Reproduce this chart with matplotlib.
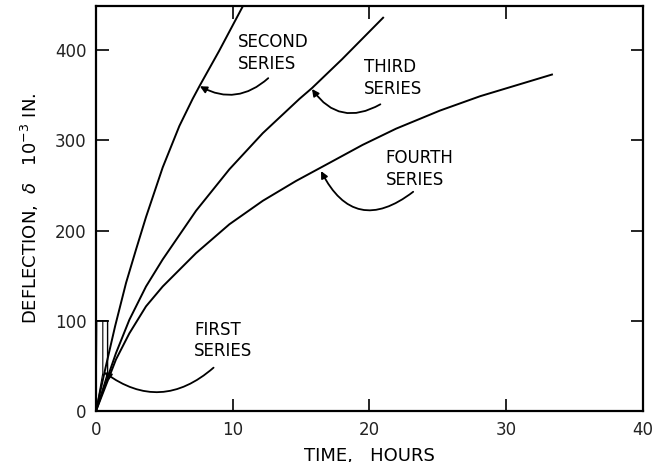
import numpy as np
import matplotlib.pyplot as plt

# values (time in hours, deflection in 1e-3 in.)
first_t = [0, 0.05, 0.85, 0.85, 0]
first_d = [0, 100, 100, 42, 0]
first_inner_t = [0, 0.5, 0.5]
first_inner_d = [0, 42, 100]

second_t = [0, 0.7, 1.4, 2.2, 2.93, 3.66, 4.88, 6.1, 7.07, 7.6, 9.0, 10.75]
second_d = [0, 48, 94, 142, 179, 215, 270, 316, 346, 361, 399, 449]

third_t = [0, 1.46, 2.44, 3.66, 4.88, 7.32, 9.76, 12.2, 14.88, 15.8, 18, 21]
third_d = [0, 64, 101, 138, 168, 222, 268, 308, 346, 358, 390, 436]

fourth_t = [0, 1.46, 2.44, 3.66, 4.88, 7.32, 9.76, 12.2, 14.63, 17.07, 19.5,
            21.95, 25.15, 28.1, 33.35]
fourth_d = [0, 57, 86, 116, 138, 175, 207, 233, 255, 275, 295,
            313, 333, 349, 373]

x_ticks = [0, 10, 20, 30, 40]
y_ticks = [0, 100, 200, 300, 400]

fig = plt.figure(figsize=(6.56, 4.62), dpi=100)
ax = fig.add_axes([0.1463, 0.1105, 0.8337, 0.8765])

lw = 1.4
ax.plot(first_t, first_d, '-k', linewidth=1.0)
ax.plot(first_inner_t, first_inner_d, '-k', linewidth=0.8)
ax.plot(second_t, second_d, '-k', linewidth=lw)
ax.plot(third_t, third_d, '-k', linewidth=lw)
ax.plot(fourth_t, fourth_d, '-k', linewidth=lw)

ax.set_xlim(0, 40)
ax.set_ylim(0, 449)
ax.set_xticks(x_ticks)
ax.set_yticks(y_ticks)
ax.tick_params(direction='in', length=9, width=1.2, top=True, right=True,
               labelsize=12, pad=7, labelcolor='#222222')
for s in ax.spines.values():
    s.set_linewidth(1.6)

ax.set_xlabel('TIME,   HOURS', fontsize=13, labelpad=6)
ax.set_ylabel(r'DEFLECTION,  $\delta$   10$^{-3}$ IN.', fontsize=13, labelpad=10)

arrow = dict(arrowstyle='-|>', color='k', lw=1.3, mutation_scale=10,
             shrinkA=0, shrinkB=0)
ax.annotate('', xy=(7.6, 360), xytext=(12.6, 369),
            arrowprops=dict(arrow, connectionstyle='arc3,rad=-0.35'))
ax.annotate('', xy=(15.8, 357), xytext=(20.8, 340),
            arrowprops=dict(arrow, connectionstyle='arc3,rad=-0.45'))
ax.annotate('', xy=(16.46, 266), xytext=(23.2, 243),
            arrowprops=dict(arrow, connectionstyle='arc3,rad=-0.6'))
ax.annotate('', xy=(0.6, 43), xytext=(8.6, 48),
            arrowprops=dict(arrow, connectionstyle='arc3,rad=-0.4'))

txt = dict(fontsize=12, ha='left', va='center', linespacing=1.25)
ax.text(10.38, 397, 'SECOND\nSERIES', **txt)
ax.text(19.6, 369, 'THIRD\nSERIES', **txt)
ax.text(21.2, 268, 'FOURTH\nSERIES', **txt)
ax.text(7.17, 78, 'FIRST\nSERIES', **txt)

plt.savefig('out.png', dpi=100)
